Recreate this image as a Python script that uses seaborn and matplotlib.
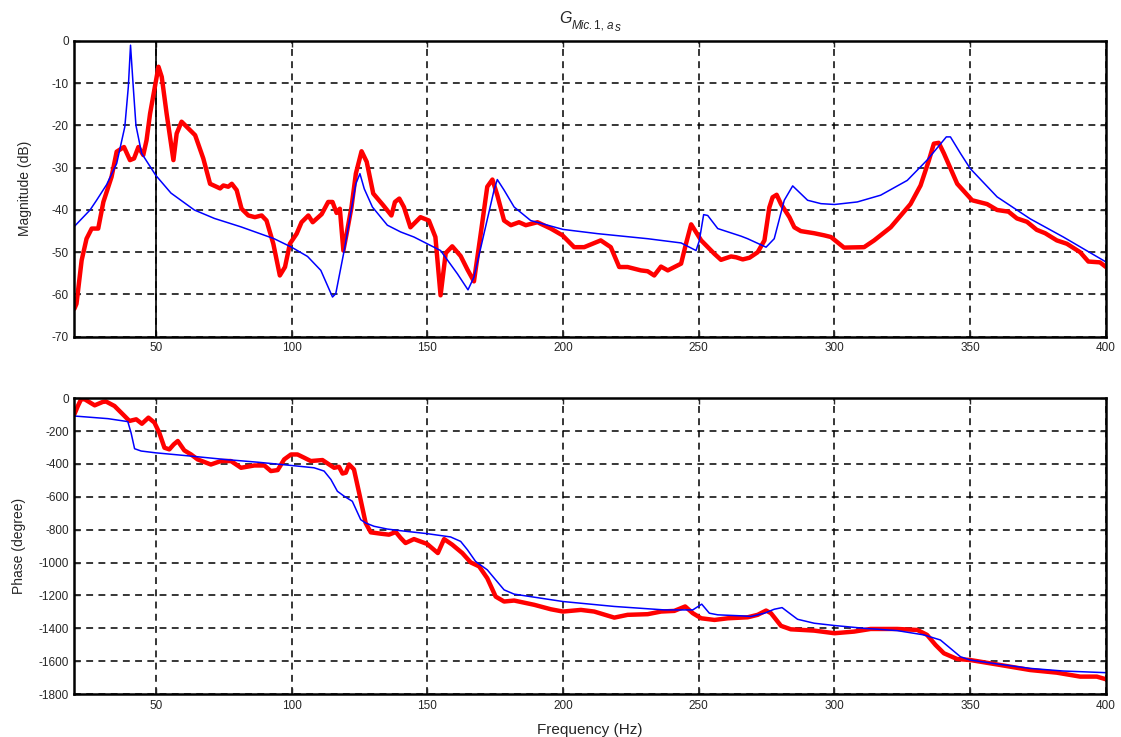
import matplotlib
matplotlib.use('Agg')
import matplotlib.pyplot as plt
import pandas as pd
import seaborn as sns

# magnitude, model (thin blue)
mag_model_f = [20, 25.8, 28.2, 31.9, 35.6, 38.6, 39.9, 40.7, 41.7, 42.7, 44.8, 50, 55.6, 64.2,
               71.6, 81.4, 93.6, 100, 105.9, 110.8, 115.1, 116.3, 119.4, 123.7, 125.2, 126.8,
               129.8, 135.3, 140.2, 145.1, 154.9, 161.1, 165, 167.2, 170.9, 174.6, 175.8, 178.3,
               182, 188.1, 200, 212.7, 231.2, 243.5, 249, 250.2, 251.8, 253.3, 257, 265.6, 268,
               274.8, 277.8, 281.5, 284.6, 290.1, 295, 300, 308.4, 317, 326.8, 334.1, 341.2,
               342.7, 346.4, 350, 359.9, 372.1, 384.3, 400]
mag_model = [-43.9, -40, -37.7, -34, -29, -20.3, -10.8, -1, -10.8, -20, -26.6, -31.8, -36, -40,
             -42, -44, -46.8, -48.8, -51, -54.3, -60.6, -59.8, -49.6, -33.8, -31.4, -35,
             -39.3, -43.6, -45.2, -46.4, -49.6, -55.1, -58.9, -55.9, -45.6, -35.3, -32.8, -35.3,
             -39.3, -42.5, -44.6, -45.6, -46.8, -47.8, -49.6, -47.3, -41.1, -41.3, -44.4, -46.2, -46.8,
             -48.8, -46.8, -37.7, -34.3, -37.7, -38.5, -38.7, -38.1, -36.5, -33, -28.2, -22.7,
             -22.7, -26.6, -30.2, -36.9, -42.1, -46.4, -52.3]

# magnitude, measured (thick red)
mag_meas_f = [20, 20.8, 22.7, 24.5, 26.4, 28.8, 30.7, 33.7, 35.6, 38.3, 40.5, 42, 43.6, 45.4,
              46.6, 47.9, 49.7, 51, 52.2, 54, 56.5, 57.7, 59.5, 62, 64.5, 67.5, 70, 73.7, 74.9,
              76.7, 78, 79.8, 81.6, 84.1, 86.5, 89, 90.8, 93.3, 95.7, 97.6, 99.4, 101.9, 103.7,
              106.2, 107.8, 111.1, 113.5, 115.1, 116.6, 117.8, 119.1, 120.3, 122.1, 123.7,
              125.8, 127.7, 130.1, 133.8, 136.8, 138.1, 139.7, 141.4, 143.8, 147.5, 150.6, 153,
              154.9, 156.8, 159.2, 162.3, 164.8, 167.2, 169.7, 172.1, 174, 175.8, 178.3, 180.8,
              183.8, 186.3, 190.6, 195.5, 199.8, 204.1, 207.8, 213.9, 217.6, 220.7, 223.8,
              228.7, 231.2, 233.6, 236.1, 238.6, 243.5, 245.3, 247.2, 250.9, 255.8, 258.2,
              261.9, 263.8, 266.2, 268.7, 271.7, 274.2, 276, 277.2, 278.7, 280.3, 283.4, 285.2,
              287.6, 292.5, 296.2, 298.7, 303.5, 310.9, 314.6, 320.7, 328, 331.7, 334.8, 336.6,
              338.4, 340.3, 345.2, 350.7, 356.2, 359.9, 364.1, 367.2, 370.9, 374.5, 377.6,
              381.9, 385.6, 390.5, 393.5, 397.8, 400]
mag_meas = [-63.4, -62.2, -51.9, -46.8, -44.4, -44.4, -38.1, -32.2, -26.2, -25.1, -28.2, -27.8,
            -25.1, -27, -23.5, -17.2, -10.8, -6.1, -8.5, -17.2, -28.2, -21.9, -19.1, -20.7,
            -22.3, -27.8, -33.8, -34.9, -34.2, -34.5, -33.8, -35.3, -39.7, -41.3, -41.7, -41.3,
            -42.5, -48, -55.5, -53.5, -48, -45.6, -42.9, -41.3, -42.9, -41, -38.1, -38.1, -40.7,
            -39.7, -49.6, -45.6, -39.3, -31.4, -26.1, -28.6, -36.1, -38.9, -41.3, -38.1, -37.3,
            -39.3, -44.1, -41.7, -42.5, -46.4, -60.2, -50.2, -48.6, -50.9, -54.1, -56.9, -45.6,
            -34.5, -32.8, -36.5, -42.5, -43.6, -42.9, -43.6, -42.9, -44.4, -46, -48.8, -48.8,
            -47.2, -48.8, -53.5, -53.5, -54.3, -54.5, -55.5, -53.4, -54.3, -52.7, -48, -43.4,
            -47.2, -50.4, -51.8, -51, -51.2, -51.7, -51.3, -50, -47.2, -39.4, -37, -36.4, -38.6,
            -41.7, -44.1, -45, -45.5, -46, -46.4, -48.9, -48.8, -47.2, -44.1, -38.6, -34.2,
            -28.2, -24.3, -24.1, -26.6, -33.8, -37.7, -38.6, -40, -40.4, -42, -42.8, -44.7,
            -45.5, -47.2, -48, -50, -52.2, -52.4, -53.5]

# phase, model (thin blue)
ph_model_f = [20, 32.4, 39.7, 40.9, 42.2, 44.6, 50, 63, 75.2, 87.5, 100, 108.3, 112, 114.5,
              116.9, 119.4, 122.4, 125.5, 127.3, 130.4, 135.3, 140.2, 150, 158.6, 162.3, 164.8,
              167.8, 172.1, 175.2, 178.3, 182, 200, 218.9, 237.3, 247.8, 251.1, 253.9, 257,
              265.6, 269.3, 274.2, 277.8, 280.7, 283.4, 286.4, 292.5, 300, 310.9, 323.1, 332.9,
              339, 342.7, 346.4, 350, 359.9, 372.1, 384.3, 400]
ph_model = [-108, -124, -142, -210, -307, -321, -332, -352, -372, -389, -409, -423, -443, -494,
            -566, -596, -627, -739, -759, -779, -796, -806, -824, -844, -871, -922, -993, -1044,
            -1105, -1166, -1192, -1237, -1267, -1288, -1288, -1253, -1308, -1318, -1324, -1328,
            -1308, -1284, -1274, -1308, -1345, -1369, -1383, -1400, -1414, -1440, -1471, -1522,
            -1573, -1593, -1617, -1644, -1660, -1670]

# phase, measured (thick red)
ph_meas_f = [20, 21.3, 22.5, 23.8, 27.5, 30.5, 31.7, 34.8, 38.5, 40.3, 42.8, 44.9, 47.3, 49.5,
             51.3, 53.2, 55, 56.6, 58.1, 60.5, 63, 65.4, 70.3, 74, 77.7, 81.4, 86.3, 90, 92.4,
             94.9, 97.3, 99.8, 102.2, 104.7, 107.1, 111.4, 115.7, 117.5, 118.8, 120, 121.2, 123,
             124.9, 127.3, 129.2, 132.8, 135.9, 138.4, 140.2, 142, 145.1, 150, 153.9, 156.2,
             159.2, 162.9, 166, 169.1, 172.1, 175.2, 178.3, 182, 189.4, 195.5, 200, 206.6, 211.5,
             218.9, 223.8, 231.2, 236.1, 241, 245, 247.8, 250.9, 255.8, 260.7, 265.6, 268,
             271.7, 274.8, 276.6, 280.3, 283.9, 292.5, 300, 307.2, 313.3, 323.1, 330.5, 334.1,
             337.2, 340.3, 345.2, 350, 359.9, 372.1, 381.9, 390.5, 396.6, 400]
ph_meas = [-98, -47, -6, -6, -43, -22, -20, -47, -108, -138, -128, -155, -118, -148, -210, -301,
           -311, -281, -260, -317, -342, -372, -403, -382, -382, -423, -409, -409, -443, -437,
           -372, -342, -342, -362, -382, -376, -423, -417, -458, -453, -403, -433, -575, -759,
           -816, -824, -830, -814, -850, -881, -857, -887, -942, -857, -891, -942, -999, -1023,
           -1095, -1207, -1237, -1231, -1257, -1284, -1298, -1288, -1298, -1335, -1318, -1314,
           -1298, -1294, -1267, -1308, -1339, -1349, -1339, -1335, -1333, -1318, -1292, -1308,
           -1385, -1406, -1414, -1430, -1420, -1404, -1404, -1410, -1440, -1501, -1552, -1587,
           -1593, -1620, -1654, -1670, -1694, -1694, -1710]

mag_model_df = pd.DataFrame({'f': mag_model_f, 'v': mag_model})
mag_meas_df = pd.DataFrame({'f': mag_meas_f, 'v': mag_meas})
ph_model_df = pd.DataFrame({'f': ph_model_f, 'v': ph_model})
ph_meas_df = pd.DataFrame({'f': ph_meas_f, 'v': ph_meas})

sns.set_style('white')
plt.rcParams['font.family'] = ['Liberation Sans', 'DejaVu Sans']
plt.rcParams['axes.unicode_minus'] = False

fig = plt.figure(figsize=(11.21, 7.37), dpi=100)
ax1 = fig.add_axes([0.0663, 0.5431, 0.9203, 0.4013])
ax2 = fig.add_axes([0.0663, 0.0583, 0.9203, 0.4013])

grid_kw = dict(color='black', linestyle=(0, (4.5, 3.5)), linewidth=1.1)

for ax in (ax1, ax2):
    ax.set_xlim(20, 400)
    ax.set_xticks([50, 100, 150, 200, 250, 300, 350, 400])
    ax.grid(True, **grid_kw)
    ax.set_axisbelow(True)
    for s in ax.spines.values():
        s.set_linewidth(1.8)
        s.set_color('black')
    ax.tick_params(direction='in', length=4, width=1, labelsize=8.5, pad=4,
                   top=True, right=True, bottom=True, left=True)

# magnitude panel
sns.lineplot(data=mag_meas_df, x='f', y='v', ax=ax1, color='#ff0000', linewidth=3.2,
             estimator=None, sort=False)
sns.lineplot(data=mag_model_df, x='f', y='v', ax=ax1, color='#0000ff', linewidth=1.1,
             estimator=None, sort=False)
ax1.axvline(50, color='black', linewidth=1.2, zorder=1)
ax1.set_ylim(-70, 0)
ax1.set_yticks(range(-70, 1, 10))
ax1.set_xlabel('')
ax1.set_ylabel('Magnitude (dB)', fontsize=10, labelpad=14)

# phase panel
sns.lineplot(data=ph_meas_df, x='f', y='v', ax=ax2, color='#ff0000', linewidth=3.2,
             estimator=None, sort=False)
sns.lineplot(data=ph_model_df, x='f', y='v', ax=ax2, color='#0000ff', linewidth=1.1,
             estimator=None, sort=False)
ax2.set_ylim(-1800, 0)
ax2.set_yticks(range(-1800, 1, 200))
ax2.set_xlabel('Frequency (Hz)', fontsize=11, labelpad=8)
ax2.set_ylabel('Phase (degree)', fontsize=10, labelpad=9)

# title G with subscript "Mic.1, a" and a lowered "s", built from pieces
fig.canvas.draw()
r = fig.canvas.get_renderer()
pieces = [('G', 11.5, 0, 0), ('Mic.', 8.5, -4, 0), ('1, ', 8.5, -4, 0),
          ('a', 8.5, -4, 1.5), ('s', 8.5, -6, 0)]
styles = ['italic', 'italic', 'normal', 'italic', 'italic']
widths = []
for (txt, fs, dy, gap), st in zip(pieces, styles):
    t = fig.text(0, 0, txt, fontsize=fs, style=st)
    widths.append(t.get_window_extent(r).width + gap)
    t.remove()
total = sum(widths)
x0 = 590 - total / 2
for ((txt, fs, dy, gap), st), w in zip(zip(pieces, styles), widths):
    fig.text(x0 / 1121, (737 - 23 + dy * 100 / 72) / 737, txt, fontsize=fs, style=st,
             ha='left', va='baseline')
    x0 += w

fig.savefig('out.png', dpi=100)
